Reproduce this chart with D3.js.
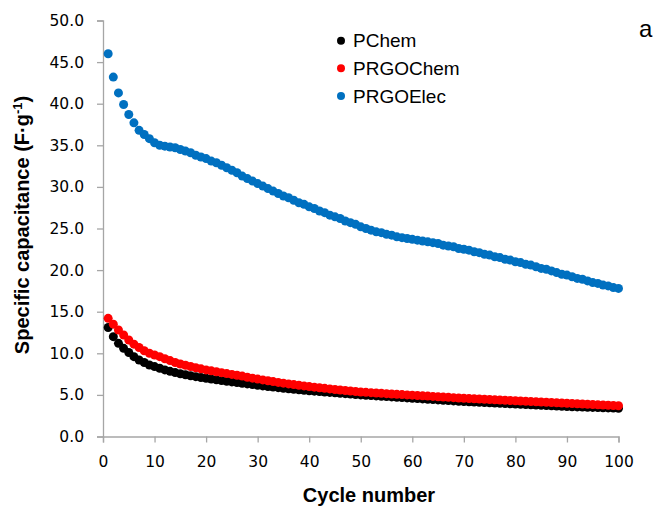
<!DOCTYPE html>
<html>
<head>
<meta charset="utf-8">
<script src="https://cdn.jsdelivr.net/npm/d3@7"></script>
<style>
  body { margin: 0; background: #fff; }
  svg { display: block; }
</style>
</head>
<body>
<svg id="chart" width="656" height="508"></svg>
<script>
// cycle numbers 1..100
var cycles = d3.range(1, 101);

var pChem = [
  13.1, 12.0, 11.2, 10.6, 10.1, 9.6, 9.2, 8.9, 8.6, 8.4,
  8.2, 8.0, 7.83, 7.68, 7.54, 7.42, 7.3, 7.19, 7.09, 7.0,
  6.9, 6.81, 6.72, 6.64, 6.56, 6.48, 6.4, 6.32, 6.24, 6.16,
  6.08, 6.01, 5.94, 5.87, 5.8, 5.74, 5.68, 5.62, 5.56, 5.5,
  5.45, 5.4, 5.35, 5.3, 5.25, 5.2, 5.15, 5.1, 5.05, 5.0,
  4.96, 4.92, 4.88, 4.84, 4.8, 4.76, 4.72, 4.68, 4.64, 4.6,
  4.56, 4.52, 4.48, 4.44, 4.4, 4.36, 4.32, 4.28, 4.24, 4.2,
  4.17, 4.14, 4.11, 4.08, 4.05, 4.02, 3.99, 3.96, 3.93, 3.9,
  3.87, 3.84, 3.81, 3.78, 3.75, 3.72, 3.69, 3.66, 3.63, 3.6,
  3.58, 3.56, 3.54, 3.52, 3.5, 3.48, 3.46, 3.44, 3.42, 3.4
];

var prgoChem = [
  14.2, 13.5, 12.8, 12.2, 11.6, 11.1, 10.7, 10.3, 10.0, 9.8,
  9.6, 9.35, 9.12, 8.9, 8.72, 8.56, 8.41, 8.26, 8.13, 8.0,
  7.89, 7.78, 7.67, 7.56, 7.46, 7.36, 7.26, 7.12, 7.01, 6.9,
  6.8, 6.7, 6.6, 6.5, 6.41, 6.32, 6.24, 6.16, 6.08, 6.0,
  5.93, 5.86, 5.79, 5.72, 5.65, 5.59, 5.53, 5.47, 5.41, 5.35,
  5.31, 5.27, 5.23, 5.19, 5.15, 5.11, 5.07, 5.04, 5.0, 4.97,
  4.93, 4.89, 4.86, 4.82, 4.78, 4.74, 4.71, 4.67, 4.63, 4.6,
  4.57, 4.54, 4.51, 4.48, 4.45, 4.42, 4.39, 4.36, 4.33, 4.3,
  4.27, 4.24, 4.21, 4.18, 4.15, 4.12, 4.09, 4.06, 4.03, 4.0,
  3.97, 3.94, 3.91, 3.88, 3.85, 3.82, 3.79, 3.76, 3.73, 3.7
];

var prgoElec = [
  46.0, 43.2, 41.3, 39.9, 38.7, 37.7, 36.8, 36.3, 35.8, 35.3,
  35.0, 34.9, 34.8, 34.7, 34.5, 34.3, 34.1, 33.8, 33.6, 33.4,
  33.1, 32.9, 32.6, 32.3, 32.0, 31.7, 31.3, 31.0, 30.7, 30.4,
  30.1, 29.8, 29.5, 29.2, 28.9, 28.7, 28.4, 28.1, 27.9, 27.6,
  27.4, 27.1, 26.9, 26.6, 26.4, 26.2, 25.9, 25.7, 25.5, 25.2,
  25.0, 24.8, 24.6, 24.5, 24.3, 24.2, 24.0, 23.9, 23.8, 23.7,
  23.6, 23.5, 23.4, 23.3, 23.2, 23.0, 22.9, 22.8, 22.6, 22.5,
  22.4, 22.2, 22.1, 21.9, 21.8, 21.6, 21.5, 21.3, 21.2, 21.0,
  20.9, 20.7, 20.6, 20.4, 20.2, 20.1, 19.9, 19.7, 19.5, 19.4,
  19.2, 19.0, 18.9, 18.7, 18.5, 18.4, 18.2, 18.1, 17.9, 17.8
];

var seriesNames = ["PChem", "PRGOChem", "PRGOElec"];
var seriesColors = ["#000000", "#ff0000", "#0070c0"];
var seriesValues = [pChem, prgoChem, prgoElec];

var xTicks = [0, 10, 20, 30, 40, 50, 60, 70, 80, 90, 100];
var yTicks = [0, 5, 10, 15, 20, 25, 30, 35, 40, 45, 50];

var svg = d3.select("#chart");
var axisColor = "#a6a6a6";
var tickFont = "'DejaVu Sans', sans-serif";

var x = d3.scaleLinear().domain([0, 100]).range([103, 618.5]);
var y = d3.scaleLinear().domain([0, 50]).range([436.5, 20.5]);

// y axis
var yAxis = svg.append("g")
  .attr("transform", "translate(" + x(0) + ",0)")
  .call(d3.axisLeft(y).tickValues(yTicks).tickSize(6).tickPadding(13)
    .tickFormat(d3.format(".1f")));
yAxis.select(".domain").attr("stroke", axisColor).attr("stroke-width", 1.3);
yAxis.selectAll(".tick line").attr("stroke", axisColor).attr("stroke-width", 1.3);
yAxis.selectAll(".tick text")
  .attr("fill", "#000")
  .style("font-family", tickFont)
  .style("font-size", "15.5px");

// x axis
var xAxis = svg.append("g")
  .attr("transform", "translate(0," + y(0) + ")")
  .call(d3.axisBottom(x).tickValues(xTicks).tickSize(6).tickPadding(13));
xAxis.select(".domain").attr("stroke", axisColor).attr("stroke-width", 1.3);
xAxis.selectAll(".tick line").attr("stroke", axisColor).attr("stroke-width", 1.3);
xAxis.selectAll(".tick text")
  .attr("fill", "#000")
  .style("font-family", tickFont)
  .style("font-size", "15.5px");

// points, later series on top
seriesValues.forEach(function(vals, i) {
  svg.append("g")
    .selectAll("circle")
    .data(cycles)
    .enter()
    .append("circle")
    .attr("cx", function(c) { return x(c); })
    .attr("cy", function(c, j) { return y(vals[j]); })
    .attr("r", 4.5)
    .attr("fill", seriesColors[i]);
});

// axis titles
svg.append("text")
  .attr("transform", "translate(29,225) rotate(-90)")
  .attr("text-anchor", "middle")
  .style("font-family", "'Liberation Sans', Arial, sans-serif")
  .style("font-weight", "bold")
  .style("font-size", "20px")
  .html("Specific capacitance (F·g<tspan dy='-7' font-size='13px'>-1</tspan><tspan dy='7'>)</tspan>");

svg.append("text")
  .attr("x", 369)
  .attr("y", 502)
  .attr("text-anchor", "middle")
  .style("font-family", "'Liberation Sans', Arial, sans-serif")
  .style("font-weight", "bold")
  .style("font-size", "20px")
  .text("Cycle number");

// legend
var legend = svg.append("g");
seriesNames.forEach(function(name, i) {
  var cy = 40.7 + i * 27.6;
  legend.append("circle")
    .attr("cx", 341)
    .attr("cy", cy)
    .attr("r", 4)
    .attr("fill", seriesColors[i]);
  legend.append("text")
    .attr("x", 353)
    .attr("y", cy + 6.6)
    .style("font-family", "'Liberation Sans', Arial, sans-serif")
    .style("font-size", "19px")
    .text(name);
});

// panel letter
svg.append("text")
  .attr("x", 639)
  .attr("y", 37)
  .style("font-family", "'Liberation Sans', Arial, sans-serif")
  .style("font-size", "24px")
  .text("a");
</script>
</body>
</html>
